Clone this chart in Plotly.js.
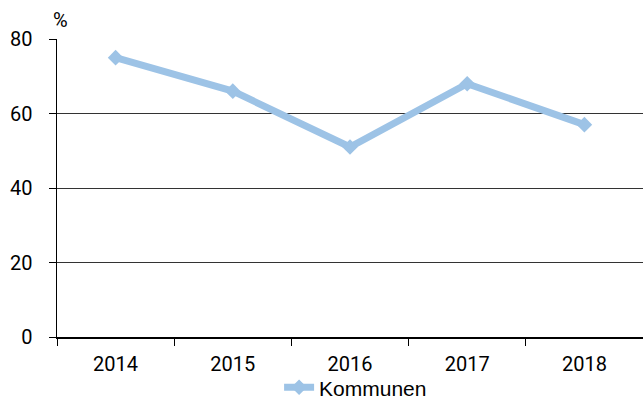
<!DOCTYPE html>
<html><head><meta charset="utf-8">
<script src="https://cdn.plot.ly/plotly-3.0.1.min.js"></script>
<style>body{margin:0;padding:0;background:#fff}#chart{width:643px;height:400px}</style>
</head><body><div id="chart"></div>
<script>
const years = ["2014", "2015", "2016", "2017", "2018"];
const kommunen = [75, 66, 51, 68, 57];
const seriesName = "Kommunen";
const yTicks = [0, 20, 40, 60, 80];

const narrow = "Roboto, sans-serif";
const trace = {
  x: years, y: kommunen, type: "scatter", mode: "lines+markers", name: seriesName,
  line: {color: "#9DC3E6", width: 7},
  marker: {symbol: "diamond", size: 12, color: "#9DC3E6"}
};
const layout = {
  width: 643, height: 400,
  margin: {l: 57, r: 0, t: 39, b: 63, autoexpand: false},
  paper_bgcolor: "#fff", plot_bgcolor: "#fff",
  showlegend: true,
  legend: {orientation: "h", x: 0.379, xanchor: "left", y: -0.17, yanchor: "middle",
           bgcolor: "rgba(0,0,0,0)",
           font: {family: "Liberation Sans, Arial, sans-serif", size: 21, color: "#000"}},
  xaxis: {type: "category", range: [-0.5, 4.5], tickson: "boundaries", ticks: "outside", ticklen: 7, tickcolor: "#000",
          showline: true, linecolor: "#000", linewidth: 1.5, showgrid: false, ticklabelstandoff: 8,
          tickfont: {family: narrow, size: 20, color: "#000"}, fixedrange: true},
  yaxis: {range: [0, 80], tickvals: yTicks, ticks: "outside", ticklen: 7, tickcolor: "#000",
          showline: true, linecolor: "#000", linewidth: 1.5, showgrid: true, gridcolor: "#333", gridwidth: 1,
          ticklabelstandoff: 12,
          zeroline: false, tickfont: {family: narrow, size: 20, color: "#000"}},
  annotations: [{text: "%", xref: "paper", yref: "paper", x: 0, y: 1, xanchor: "left", yanchor: "bottom",
                 xshift: -6, yshift: 5, showarrow: false,
                 font: {family: narrow, size: 20, color: "#000"}}]
};
Plotly.newPlot("chart", [trace], layout, {displayModeBar: false, staticPlot: true});
</script></body></html>
